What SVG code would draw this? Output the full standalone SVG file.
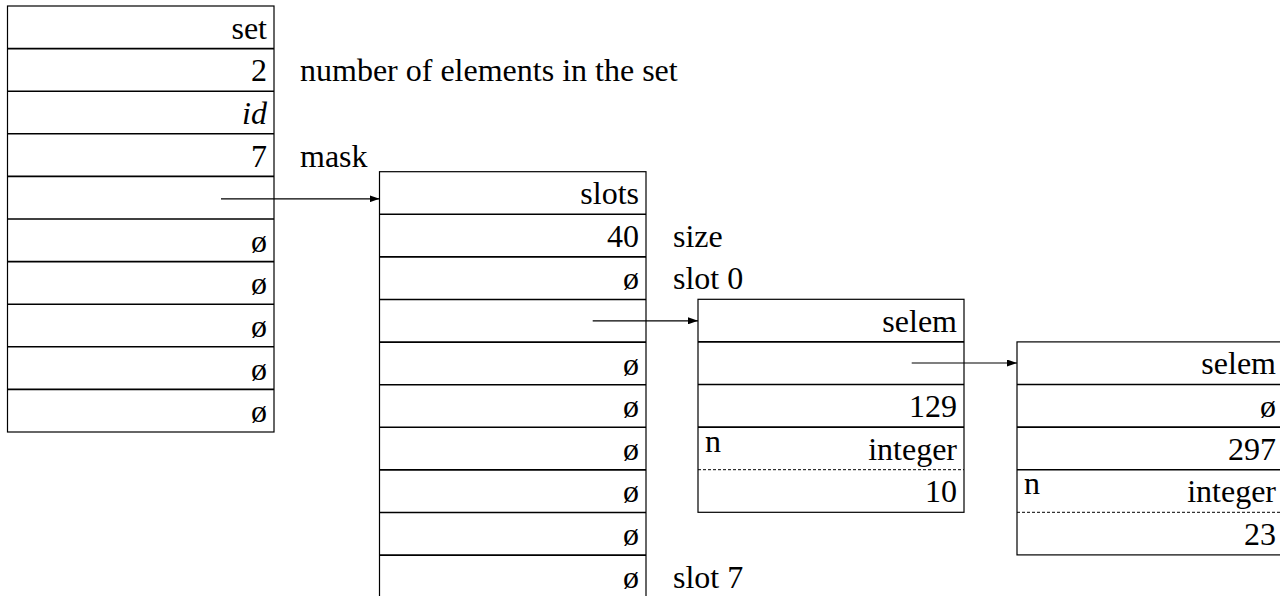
<svg xmlns="http://www.w3.org/2000/svg" width="1280" height="596" viewBox="0 0 1280 596">
<style>
  .box { fill: #fff; stroke: #000; stroke-width: 1.2; }
  .sep { stroke: #000; stroke-width: 1.6; }
  .dash { stroke: #000; stroke-width: 1; stroke-dasharray: 3 2; }
  .t { font-family: "Liberation Serif", "Times New Roman", serif; font-size: 32px; fill: #000; }
  .r { text-anchor: end; }
  .it { font-style: italic; }
  .conn { stroke: #000; stroke-width: 1.2; fill: none; }
</style>
<defs>
  <marker id="arr" viewBox="0 0 10 7" refX="10" refY="3.5" markerWidth="10" markerHeight="7" markerUnits="userSpaceOnUse" orient="auto">
    <path d="M0,0 L10,3.5 L0,7 Z" fill="#000"/>
  </marker>
</defs>
<rect width="1280" height="596" fill="#fff"/>

<g id="set">
  <rect class="box" x="7.5" y="6" width="266.5" height="426"/>
  <line class="sep" x1="7.5" y1="48.6" x2="274" y2="48.6"/>
  <line class="sep" x1="7.5" y1="91.2" x2="274" y2="91.2"/>
  <line class="sep" x1="7.5" y1="133.8" x2="274" y2="133.8"/>
  <line class="sep" x1="7.5" y1="176.4" x2="274" y2="176.4"/>
  <line class="sep" x1="7.5" y1="219" x2="274" y2="219"/>
  <line class="sep" x1="7.5" y1="261.6" x2="274" y2="261.6"/>
  <line class="sep" x1="7.5" y1="304.2" x2="274" y2="304.2"/>
  <line class="sep" x1="7.5" y1="346.8" x2="274" y2="346.8"/>
  <line class="sep" x1="7.5" y1="389.4" x2="274" y2="389.4"/>
  <text class="t r" x="267" y="38.5">set</text>
  <text class="t r" x="267" y="81.3">2</text>
  <text class="t r it" x="267" y="123.9">id</text>
  <text class="t r" x="267" y="166.5">7</text>
  <text class="t r" x="267" y="251.7">ø</text>
  <text class="t r" x="267" y="294.3">ø</text>
  <text class="t r" x="267" y="336.9">ø</text>
  <text class="t r" x="267" y="379.5">ø</text>
  <text class="t r" x="267" y="422.1">ø</text>
  <text class="t" x="300" y="81.3">number of elements in the set</text>
  <text class="t" x="300" y="166.5">mask</text>
</g>

<g id="slots">
  <rect class="box" x="379.5" y="171.7" width="266.5" height="426"/>
  <line class="sep" x1="379.5" y1="214.3" x2="646" y2="214.3"/>
  <line class="sep" x1="379.5" y1="256.9" x2="646" y2="256.9"/>
  <line class="sep" x1="379.5" y1="299.5" x2="646" y2="299.5"/>
  <line class="sep" x1="379.5" y1="342.1" x2="646" y2="342.1"/>
  <line class="sep" x1="379.5" y1="384.7" x2="646" y2="384.7"/>
  <line class="sep" x1="379.5" y1="427.3" x2="646" y2="427.3"/>
  <line class="sep" x1="379.5" y1="469.9" x2="646" y2="469.9"/>
  <line class="sep" x1="379.5" y1="512.5" x2="646" y2="512.5"/>
  <line class="sep" x1="379.5" y1="555.1" x2="646" y2="555.1"/>
  <text class="t r" x="639" y="204.2">slots</text>
  <text class="t r" x="639" y="246.8">40</text>
  <text class="t r" x="639" y="289.4">ø</text>
  <text class="t r" x="639" y="374.6">ø</text>
  <text class="t r" x="639" y="417.2">ø</text>
  <text class="t r" x="639" y="459.8">ø</text>
  <text class="t r" x="639" y="502.4">ø</text>
  <text class="t r" x="639" y="545">ø</text>
  <text class="t r" x="639" y="587.6">ø</text>
  <text class="t" x="673" y="246.8">size</text>
  <text class="t" x="673" y="289.4">slot 0</text>
  <text class="t" x="673" y="587.6">slot 7</text>
</g>

<g id="selem1">
  <rect class="box" x="698" y="299.3" width="266" height="213"/>
  <line class="sep" x1="698" y1="341.9" x2="964" y2="341.9"/>
  <line class="sep" x1="698" y1="384.5" x2="964" y2="384.5"/>
  <line class="sep" x1="698" y1="427.1" x2="964" y2="427.1"/>
  <line class="dash" x1="698" y1="469.7" x2="964" y2="469.7"/>
  <text class="t r" x="957" y="331.8">selem</text>
  <text class="t r" x="957" y="417">129</text>
  <text class="t" x="705" y="451.6">n</text>
  <text class="t r" x="957" y="459.6">integer</text>
  <text class="t r" x="957" y="502.2">10</text>
</g>

<g id="selem2">
  <rect class="box" x="1017" y="341.9" width="266" height="213"/>
  <line class="sep" x1="1017" y1="384.5" x2="1283" y2="384.5"/>
  <line class="sep" x1="1017" y1="427.1" x2="1283" y2="427.1"/>
  <line class="sep" x1="1017" y1="469.7" x2="1283" y2="469.7"/>
  <line class="dash" x1="1017" y1="512.3" x2="1283" y2="512.3"/>
  <text class="t r" x="1276" y="374.4">selem</text>
  <text class="t r" x="1276" y="417">ø</text>
  <text class="t r" x="1276" y="459.6">297</text>
  <text class="t" x="1024" y="494.2">n</text>
  <text class="t r" x="1276" y="502.2">integer</text>
  <text class="t r" x="1276" y="544.8">23</text>
</g>

<g id="connectors">
  <line class="conn" x1="221" y1="198.8" x2="379.5" y2="198.8" marker-end="url(#arr)"/>
  <line class="conn" x1="592.7" y1="320.8" x2="698" y2="320.8" marker-end="url(#arr)"/>
  <line class="conn" x1="911.7" y1="363" x2="1017" y2="363" marker-end="url(#arr)"/>
</g>
</svg>
